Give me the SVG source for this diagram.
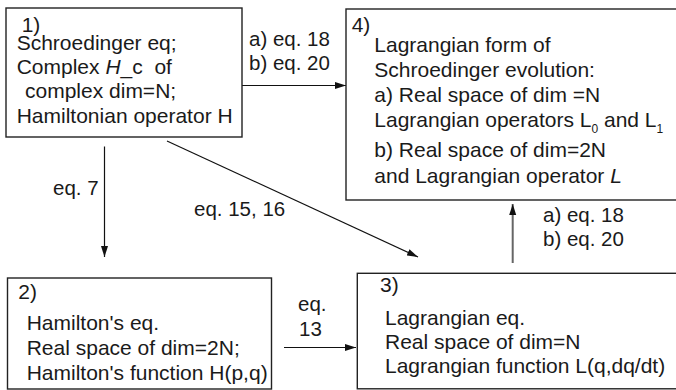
<svg xmlns="http://www.w3.org/2000/svg" width="676" height="390" viewBox="0 0 676 390">
<style>
text{font-family:"Liberation Sans",Arial,sans-serif;font-size:21px;fill:#1a1a1a}
.lbl{font-size:20.5px}
.sub{font-size:12px}
.box{fill:#fff;stroke:#222;stroke-width:1.4}
.cn{stroke:#111;stroke-width:1.2;fill:none}
.gr{stroke:#666;stroke-width:2}
</style>
<defs>
<marker id="ah" markerWidth="12" markerHeight="8" refX="11" refY="4" orient="auto" markerUnits="userSpaceOnUse">
<path d="M0,0.5 L11,4 L0,7.5 Z" fill="#111"/>
</marker>
</defs>
<rect width="676" height="390" fill="#fff"/>
<g id="connectors">
<line class="cn" x1="242" y1="85.5" x2="346" y2="85.5" marker-end="url(#ah)"/>
<line class="cn" x1="104.5" y1="146.5" x2="104.5" y2="257" marker-end="url(#ah)"/>
<line class="cn" x1="167" y1="141" x2="418" y2="257" marker-end="url(#ah)"/>
<line class="cn" x1="284" y1="347.5" x2="356" y2="347.5" marker-end="url(#ah)"/>
<line class="cn gr" x1="512.7" y1="263" x2="512.7" y2="204" marker-end="url(#ah)"/>
<text class="lbl" x="249" y="46">a) eq. 18</text>
<text class="lbl" x="249" y="70">b) eq. 20</text>
<text class="lbl" x="53" y="195">eq. 7</text>
<text class="lbl" x="194" y="216">eq. 15, 16</text>
<text class="lbl" x="298" y="311">eq.</text>
<text class="lbl" x="299" y="336">13</text>
<text class="lbl" x="543" y="222">a) eq. 18</text>
<text class="lbl" x="543" y="246">b) eq. 20</text>
</g>
<g id="node1">
<rect class="box" x="6" y="8" width="236" height="129"/>
<text x="21.7" y="32">1)</text>
<text x="16.7" y="50">Schroedinger eq;</text>
<text x="16.7" y="74" xml:space="preserve">Complex <tspan font-style="italic">H</tspan>_c  of</text>
<text x="25" y="98">complex dim=N;</text>
<text x="16.7" y="123">Hamiltonian operator H</text>
</g>
<g id="node4">
<rect class="box" x="346" y="9" width="340" height="191"/>
<text x="351.7" y="32">4)</text>
<text x="374.3" y="52">Lagrangian form of</text>
<text x="374.3" y="77">Schroedinger evolution:</text>
<text x="374.3" y="102">a) Real space of dim =N</text>
<text x="374.3" y="127">Lagrangian operators L<tspan class="sub" dy="6">0</tspan><tspan dy="-6"> and L</tspan><tspan class="sub" dy="6">1</tspan></text>
<text x="374.3" y="157">b) Real space of dim=2N</text>
<text x="374.3" y="183">and Lagrangian operator <tspan font-style="italic">L</tspan></text>
</g>
<g id="node2">
<rect class="box" x="7.5" y="278" width="264" height="111"/>
<text x="18.3" y="299">2)</text>
<text x="26.7" y="330">Hamilton's eq.</text>
<text x="26.7" y="355">Real space of dim=2N;</text>
<text x="26.7" y="380">Hamilton's function H(p,q)</text>
</g>
<g id="node3">
<rect class="box" x="357.3" y="273.3" width="330" height="115.5"/>
<text x="380" y="292">3)</text>
<text x="385" y="325">Lagrangian eq.</text>
<text x="385" y="349">Real space of dim=N</text>
<text x="385" y="373">Lagrangian function L(q,dq/dt)</text>
</g>
</svg>
